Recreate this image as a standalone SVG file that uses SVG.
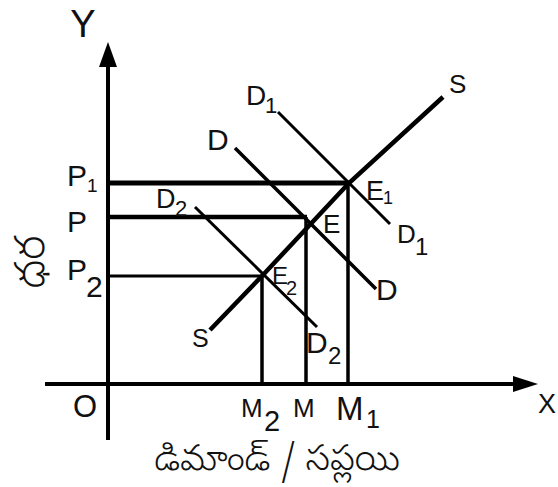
<svg xmlns="http://www.w3.org/2000/svg" width="558" height="487" viewBox="0 0 558 487">
<style>
.ln{stroke:#000;fill:none}
.t{font-family:"Liberation Sans",Arial,sans-serif;fill:#111}
.te{font-family:"Noto Sans Telugu","Noto Sans","DejaVu Sans",sans-serif;fill:#111;font-weight:300}
</style>
<rect width="558" height="487" fill="#fff"/>
<g id="connectors">
<line class="ln" x1="108" y1="440" x2="108" y2="62" stroke-width="4"/>
<polygon points="108,42 99,67 117,67" fill="#000"/>
<line class="ln" x1="45" y1="384" x2="516" y2="384" stroke-width="4"/>
<polygon points="538,384 513,376 513,392" fill="#000"/>
<line class="ln" x1="110" y1="183" x2="350" y2="183" stroke-width="5"/>
<line class="ln" x1="110" y1="217" x2="307" y2="217" stroke-width="4.5"/>
<line class="ln" x1="110" y1="276" x2="262" y2="276" stroke-width="3"/>
<line class="ln" x1="348" y1="183" x2="348" y2="384" stroke-width="3.5"/>
<line class="ln" x1="306" y1="217" x2="306" y2="384" stroke-width="3.5"/>
<line class="ln" x1="262" y1="276" x2="262" y2="384" stroke-width="3.5"/>
<path class="ln" d="M210,330 L262,276 L349,183 L443,97" stroke-width="4.5"/>
<line class="ln" x1="278" y1="112" x2="390" y2="224" stroke-width="3"/>
<line class="ln" x1="235" y1="148" x2="376" y2="289" stroke-width="3.5"/>
<line class="ln" x1="195" y1="207" x2="317" y2="327" stroke-width="3"/>
</g>
<g id="axis-labels">
<text class="t" x="83" y="37" font-size="38" text-anchor="middle">Y</text>
<text class="t" x="538" y="413" font-size="27">X</text>
<text class="t" x="73" y="417" font-size="31">O</text>
<text class="te" transform="translate(44,262) rotate(-90)" font-size="42" text-anchor="middle">ధర</text>
<text class="te" x="277" y="470" font-size="36" text-anchor="middle">డిమాండ్ / సప్లయి</text>
</g>
<g id="price-labels">
<text class="t" x="67" y="186" font-size="30">P</text>
<text class="t" x="87" y="192" font-size="19">1</text>
<text class="t" x="67" y="232" font-size="30">P</text>
<text class="t" x="67" y="280" font-size="30">P</text>
<text class="t" x="86" y="297" font-size="30">2</text>
</g>
<g id="quantity-labels">
<text class="t" x="241" y="417" font-size="26">M</text>
<text class="t" x="264" y="431" font-size="29">2</text>
<text class="t" x="293" y="417" font-size="26">M</text>
<text class="t" x="336" y="420" font-size="33">M</text>
<text class="t" x="366" y="428" font-size="25">1</text>
</g>
<g id="curve-labels">
<text class="t" x="449" y="93" font-size="26">S</text>
<text class="t" x="192" y="347" font-size="25">S</text>
<text class="t" x="246" y="105" font-size="28">D</text>
<text class="t" x="265" y="113" font-size="22">1</text>
<text class="t" x="207" y="150" font-size="30">D</text>
<text class="t" x="156" y="208" font-size="27">D</text>
<text class="t" x="175" y="216" font-size="22">2</text>
<text class="t" x="397" y="243" font-size="26">D</text>
<text class="t" x="415" y="255" font-size="24">1</text>
<text class="t" x="376" y="300" font-size="30">D</text>
<text class="t" x="306" y="353" font-size="30">D</text>
<text class="t" x="328" y="364" font-size="24">2</text>
</g>
<g id="point-labels">
<text class="t" x="366" y="200" font-size="27">E</text>
<text class="t" x="383" y="204" font-size="18">1</text>
<text class="t" x="323" y="233" font-size="26">E</text>
<text class="t" x="272" y="284" font-size="24">E</text>
<text class="t" x="286" y="295" font-size="20">2</text>
</g>
</svg>
